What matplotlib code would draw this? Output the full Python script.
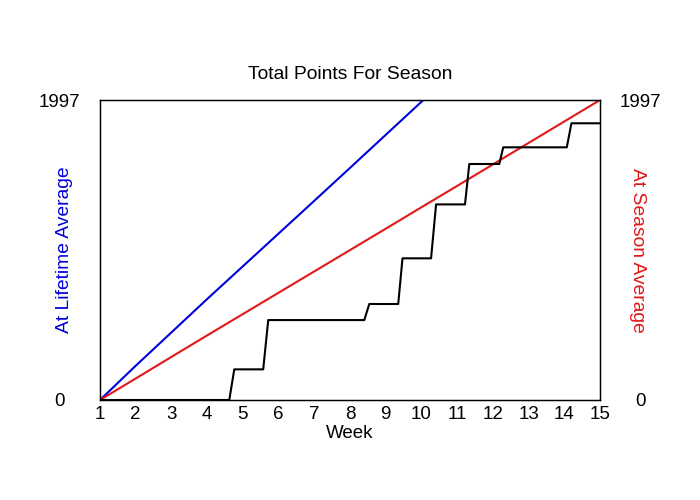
import matplotlib
matplotlib.use("Agg")
import matplotlib.pyplot as plt

# ---- data ----
weeks = list(range(1, 16))
week_labels = [str(w) for w in weeks]

lifetime_weeks = [1, 2, 3, 4, 5, 6, 7, 8, 9, 10, 11]
lifetime_pts = [0, 228, 450, 672, 890, 1108, 1326, 1545, 1765, 1985, 2205]

season_weeks = list(range(1, 16))
season_pts = [0, 143, 287, 430, 572, 714, 856, 998, 1140, 1283, 1425, 1568, 1711, 1854, 1997]

actual_weeks = [1, 4.62, 4.76, 5.57, 5.71, 8.40, 8.54, 9.35, 9.47, 10.27, 10.41,
                11.22, 11.34, 12.18, 12.29, 14.07, 14.20, 15]
actual_pts = [0, 0, 204, 204, 532, 532, 639, 639, 943, 943, 1302,
              1302, 1571, 1571, 1682, 1682, 1842, 1842]

y_max = 1997
y_ticks = [0, 1997]
y_tick_labels = ["0", "1997"]

title = "Total Points For Season"
xlabel = "Week"
left_label = "At Lifetime Average"
right_label = "At Season Average"

# ---- drawing ----
plt.rcParams['font.family'] = ['Liberation Sans', 'DejaVu Sans']
fs = 13.5

fig = plt.figure(figsize=(7, 5), dpi=100)
ax = fig.add_axes([100/700, 100/500, 500/700, 300/500])

ax.plot(lifetime_weeks, lifetime_pts, color='#0000dd', lw=1.5)
ax.plot(season_weeks, season_pts, color='#e01818', lw=1.5)
ax.plot(actual_weeks, actual_pts, color='black', lw=1.5)

ax.set_xlim(1, 15)
ax.set_ylim(0, y_max)
ax.set_xticks(weeks)
ax.set_xticklabels(week_labels, fontsize=fs)
ax.set_yticks(y_ticks)
ax.set_yticklabels(y_tick_labels, fontsize=fs, ha='center')
ax.tick_params(axis='x', length=0, pad=4)
ax.tick_params(axis='y', length=0, pad=29)
for s in ax.spines.values():
    s.set_linewidth(1.0)

ax2 = ax.twinx()
ax2.set_ylim(0, y_max)
ax2.set_yticks(y_ticks)
ax2.set_yticklabels(y_tick_labels, fontsize=fs, ha='center')
ax2.tick_params(axis='y', length=0, pad=29)

ax.set_title(title, fontsize=13.9, pad=15)
ax.set_xlabel(xlabel, fontsize=fs, labelpad=2)
ax.set_ylabel(left_label, fontsize=13.9, color='#0000dd', labelpad=-24.5)
ax2.set_ylabel(right_label, fontsize=13.9, color='#e01818', rotation=-90, labelpad=-11)

fig.savefig("out.png", dpi=100)
